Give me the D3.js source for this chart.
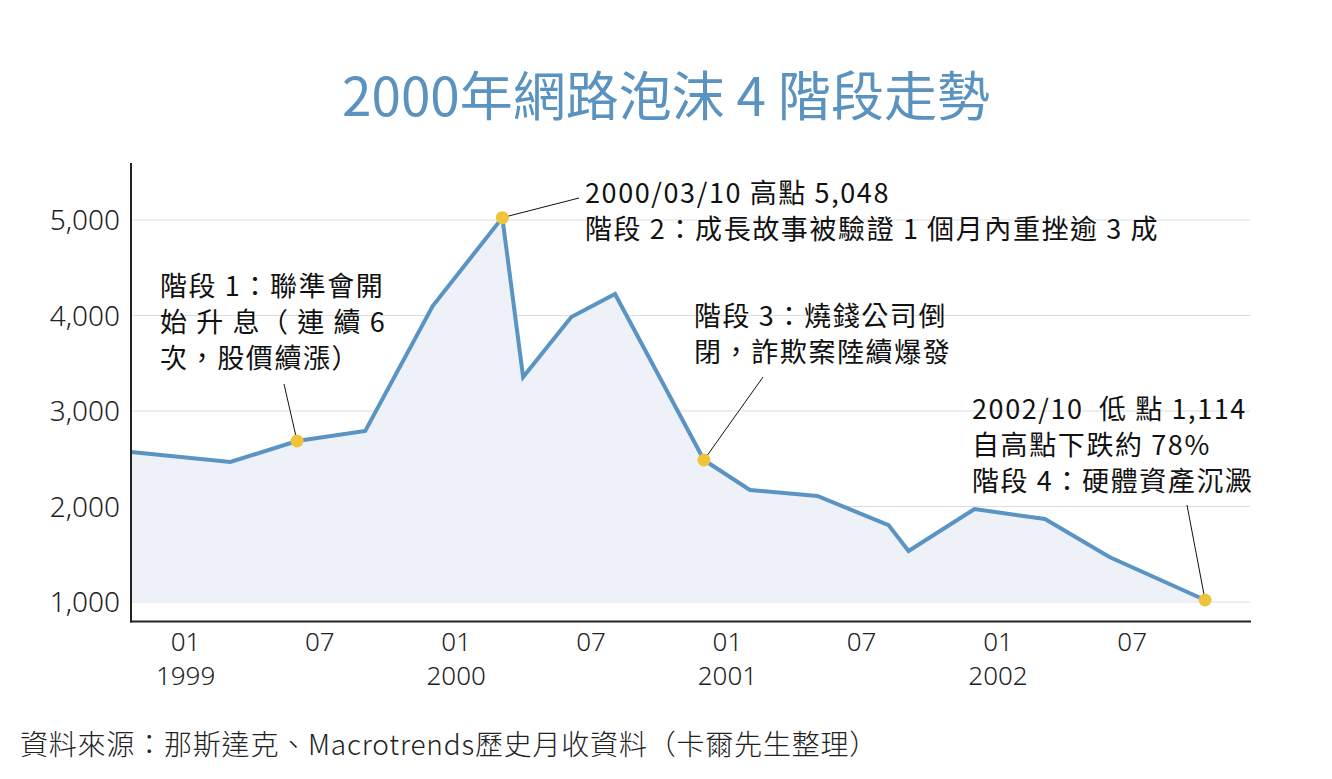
<!DOCTYPE html>
<html>
<head>
<meta charset="utf-8">
<script src="https://cdn.jsdelivr.net/npm/d3@7"></script>
<style>
  html, body { margin: 0; padding: 0; background: #ffffff; }
  svg { display: block; }
  .cjk { font-family: "Noto Sans CJK TC", "Noto Sans", sans-serif; white-space: pre; }
  .num { font-family: "Noto Sans", "DejaVu Sans", sans-serif; font-weight: 300; }
</style>
</head>
<body>
<svg id="chart" width="1332" height="779"></svg>
<script>
// ---------------- data ----------------
const dates = [
  "1998-10-20", "1999-03-03", "1999-06-01", "1999-09-01", "1999-12-01",
  "2000-03-04", "2000-04-01", "2000-06-05", "2000-08-03", "2000-12-01",
  "2001-02-01", "2001-05-03", "2001-08-07", "2001-09-03", "2001-12-01",
  "2002-03-06", "2002-06-01", "2002-10-08"
];
const values = [
  2571, 2466, 2686, 2791, 4099,
  5025, 3356, 3984, 4225, 2487,
  2173, 2110, 1806, 1534, 1974,
  1869, 1471, 1021
];
const yTicks = [1000, 2000, 3000, 4000, 5000];
const xTickDates = ["1999-01-01", "1999-07-01", "2000-01-01", "2000-07-01",
                    "2001-01-01", "2001-07-01", "2002-01-01", "2002-07-01"];
const highlightIdx = [2, 5, 9, 17];
const titleText = "2000年網路泡沫 4 階段走勢";
const sourceText = "資料來源：那斯達克、Macrotrends歷史月收資料（卡爾先生整理）";
const notes = [
  ["階段 1：聯準會開", "始 升 息（ 連 續 6", "次，股價續漲）"],
  ["2000/03/10 高點 5,048", "階段 2：成長故事被驗證 1 個月內重挫逾 3 成"],
  ["階段 3：燒錢公司倒", "閉，詐欺案陸續爆發"],
  ["2002/10  低 點 1,114", "自高點下跌約 78%", "階段 4：硬體資產沉澱"]
];

// ---------------- setup ----------------
const parse = d3.utcParse("%Y-%m-%d");
const data = dates.map((d, i) => ({ date: parse(d), value: values[i] }));

const svg = d3.select("#chart");
const pLeft = 131, pRight = 1251, pTop = 163, pBottom = 621.5;

const x = d3.scaleUtc()
  .domain([parse("1998-10-20"), parse("2002-12-09")])
  .range([pLeft, pRight]);
const y = d3.scaleLinear()
  .domain([796, 5597])
  .range([pBottom, pTop]);

const blue = "#5a94c3";

// title
svg.append("text")
  .attr("class", "cjk")
  .attr("x", 666).attr("y", 116)
  .attr("text-anchor", "middle")
  .attr("font-size", 53)
  .attr("fill", "#5b93c0")
  .text(titleText);

// gridlines
svg.append("g").selectAll("line").data(yTicks).join("line")
  .attr("x1", pLeft).attr("x2", pRight - 1)
  .attr("y1", d => y(d)).attr("y2", d => y(d))
  .attr("stroke", "#dcdde0").attr("stroke-width", 1.2);

// area
const area = d3.area()
  .x(d => x(d.date))
  .y0(y(1000))
  .y1(d => y(d.value));
svg.append("path").datum(data)
  .attr("d", area)
  .attr("fill", "#eef2f8");

// line
const line = d3.line().x(d => x(d.date)).y(d => y(d.value));
svg.append("path").datum(data)
  .attr("d", line)
  .attr("fill", "none")
  .attr("stroke", blue)
  .attr("stroke-width", 4)
  .attr("stroke-linejoin", "miter");

// y axis
const yAxis = d3.axisLeft(y).tickValues(yTicks).tickSize(0).tickPadding(11)
  .tickFormat(d3.format(","));
const gy = svg.append("g").attr("transform", `translate(${pLeft},0)`).call(yAxis);
gy.select(".domain").remove();
gy.selectAll("text")
  .attr("class", "num")
  .attr("font-size", 28)
  .attr("fill", "#222")
  .attr("dy", "0.35em");

// x axis
const xAxis = d3.axisBottom(x).tickValues(xTickDates.map(parse)).tickSize(0).tickFormat("");
const gx = svg.append("g").attr("transform", `translate(0,${pBottom})`).call(xAxis);
gx.select(".domain").remove();
gx.selectAll(".tick text").remove();
gx.selectAll(".tick").each(function(d) {
  const g = d3.select(this);
  const t = g.append("text")
    .attr("class", "num")
    .attr("text-anchor", "middle")
    .attr("font-size", 26)
    .attr("fill", "#222");
  t.append("tspan").attr("x", 0).attr("y", 29).text(d3.utcFormat("%m")(d));
  if (d.getUTCMonth() === 0) {
    t.append("tspan").attr("x", 0).attr("y", 63).text(d3.utcFormat("%Y")(d));
  }
});

// axis lines
svg.append("line")
  .attr("x1", pLeft).attr("x2", pLeft)
  .attr("y1", pTop).attr("y2", pBottom + 1)
  .attr("stroke", "#222").attr("stroke-width", 2);
svg.append("line")
  .attr("x1", pLeft - 1).attr("x2", pRight)
  .attr("y1", pBottom).attr("y2", pBottom)
  .attr("stroke", "#222").attr("stroke-width", 2);

// leader lines
const leaderEnds = [[284, 384], [579, 198], [763, 377], [1187, 505]];
highlightIdx.forEach((idx, k) => {
  const d = data[idx];
  svg.append("line")
    .attr("x1", leaderEnds[k][0]).attr("y1", leaderEnds[k][1])
    .attr("x2", x(d.date)).attr("y2", y(d.value))
    .attr("stroke", "#111").attr("stroke-width", 1);
});

// highlight dots
svg.append("g").selectAll("circle").data(highlightIdx.map(i => data[i])).join("circle")
  .attr("cx", d => x(d.date)).attr("cy", d => y(d.value))
  .attr("r", 6.5)
  .attr("fill", "#f0c43a");

// annotations
const notePos = [[160, 296, 36], [585, 203, 36], [694, 326, 36], [972, 419, 36]];
notes.forEach((lines, k) => {
  const t = svg.append("text")
    .attr("class", "cjk")
    .attr("font-size", 27)
    .attr("font-weight", 400)
    .attr("letter-spacing", 1.6)
    .attr("fill", "#111");
  lines.forEach((s, j) => {
    t.append("tspan")
      .attr("x", notePos[k][0])
      .attr("y", notePos[k][1] + j * notePos[k][2])
      .text(s);
  });
});

// source
svg.append("text")
  .attr("class", "cjk")
  .attr("x", 20).attr("y", 755)
  .attr("font-size", 28)
  .attr("font-weight", 300)
  .attr("letter-spacing", 0.8)
  .attr("fill", "#222")
  .text(sourceText);
</script>
</body>
</html>
